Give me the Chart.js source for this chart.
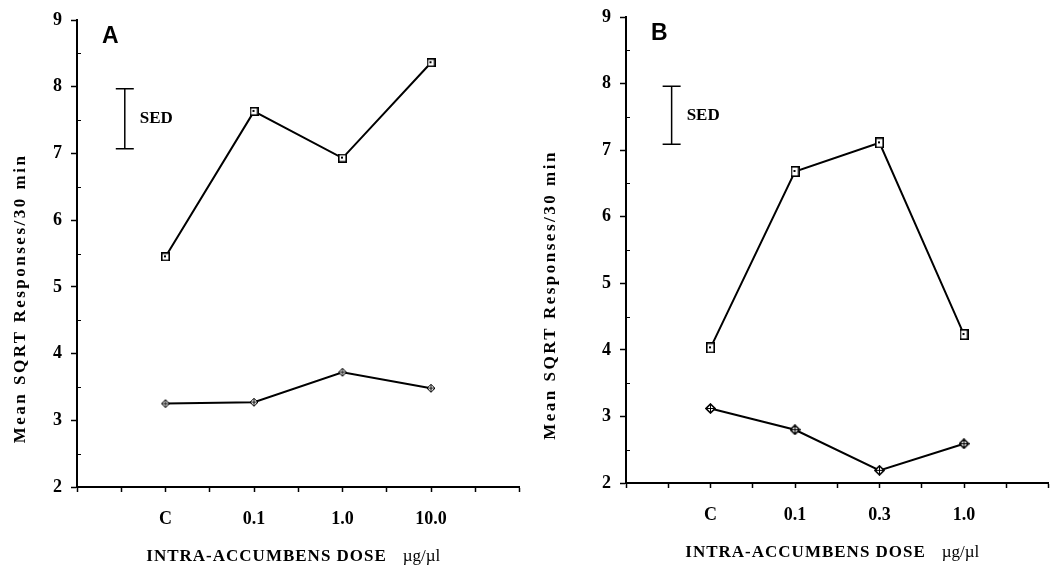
<!DOCTYPE html>
<html>
<head>
<meta charset="utf-8">
<script src="https://cdn.jsdelivr.net/npm/chart.js@4.4.1/dist/chart.umd.min.js"></script>
<style>
  body { margin: 0; background: #fff; }
  .panel { position: absolute; top: 0; }
</style>
</head>
<body>
<canvas id="chartA" class="panel" width="530" height="566" style="left:0"></canvas>
<canvas id="chartB" class="panel" width="529" height="566" style="left:530px"></canvas>
<script>
// Panel A values
const dosesA = ['C', '0.1', '1.0', '10.0'];
const squaresA = [5.45, 7.63, 6.93, 8.36];
const diamondsA = [3.25, 3.27, 3.72, 3.48];
const sedA = [7.07, 7.97];

// Panel B values
const dosesB = ['C', '0.1', '0.3', '1.0'];
const squaresB = [4.03, 6.68, 7.11, 4.23];
const diamondsB = [3.12, 2.80, 2.19, 2.59];
const sedB = [7.09, 7.96];

const yTicks = [2, 3, 4, 5, 6, 7, 8, 9];
const yTitle = 'Mean SQRT Responses/30 min';
const xTitle = 'INTRA-ACCUMBENS DOSE';
const xUnit = 'µg/µl';

const serif = '"Liberation Serif", "Times New Roman", serif';

// Square marker with a dot in the middle
function boxMarker(w, h) {
    const c = document.createElement('canvas');
    c.width = w; c.height = h;
    const g = c.getContext('2d');
    g.fillStyle = '#fff';
    g.fillRect(0, 0, w, h);
    g.strokeStyle = '#000';
    g.lineWidth = 1.6;
    g.strokeRect(0.8, 0.8, w - 1.6, h - 1.6);
    g.fillStyle = '#000';
    g.fillRect(Math.floor(w / 2) - 1, Math.floor(h / 2) - 1, 2, 2);
    return c;
}

// Small diamond with a cross inside
function diamondMarker(s, lw) {
    const c = document.createElement('canvas');
    c.width = s; c.height = s;
    const g = c.getContext('2d');
    const m = s / 2;
    g.strokeStyle = '#000';
    g.lineWidth = lw;
    g.beginPath();
    g.moveTo(m, 1); g.lineTo(s - 1, m); g.lineTo(m, s - 1); g.lineTo(1, m); g.closePath();
    g.fillStyle = '#fff';
    g.fill();
    g.stroke();
    g.lineWidth = 1;
    g.beginPath();
    g.moveTo(m, 2); g.lineTo(m, s - 2);
    g.moveTo(2, m); g.lineTo(s - 2, m);
    g.stroke();
    return c;
}

// Letters, SED label, minor ticks and axis titles
const decorations = {
    id: 'decorations',
    afterDraw(chart, args, opts) {
        const ctx = chart.ctx;
        const area = chart.chartArea;
        const x = chart.scales.x, y = chart.scales.y;
        ctx.save();
        ctx.fillStyle = '#000';
        ctx.strokeStyle = '#000';

        // minor y ticks pointing inward
        ctx.lineWidth = 1;
        ctx.beginPath();
        for (let v = y.min + 0.5; v < y.max; v += 1) {
            const py = Math.round(y.getPixelForValue(v)) + 0.5;
            ctx.moveTo(area.left, py);
            ctx.lineTo(area.left + 4, py);
        }
        ctx.stroke();

        // panel letter
        ctx.font = 'bold 23px "Liberation Sans", Arial, sans-serif';
        ctx.textAlign = 'left';
        ctx.textBaseline = 'alphabetic';
        ctx.fillText(opts.letter, area.left + 25, area.top + 23);

        // SED label
        const sx = x.getPixelForValue(opts.sedX);
        const sy = y.getPixelForValue((opts.sed[0] + opts.sed[1]) / 2);
        ctx.font = 'bold 17px ' + serif;
        ctx.textBaseline = 'middle';
        ctx.fillText('SED', sx + 15, sy);

        // y title
        ctx.save();
        ctx.translate(21, (area.top + area.bottom) / 2 + 45);
        ctx.rotate(-Math.PI / 2);
        ctx.font = 'bold 17px ' + serif;
        ctx.letterSpacing = '2.5px';
        ctx.textAlign = 'center';
        ctx.fillText(yTitle, 0, 0);
        ctx.restore();

        // x title: bold words, regular unit
        ctx.textBaseline = 'alphabetic';
        ctx.letterSpacing = '1px';
        ctx.font = 'bold 17px ' + serif;
        const w1 = ctx.measureText(xTitle + '   ').width;
        ctx.letterSpacing = '0px';
        ctx.font = '17px ' + serif;
        const w2 = ctx.measureText(xUnit).width;
        const start = (area.left + area.right) / 2 - 5 - (w1 + w2) / 2;
        const base = area.bottom + 74;
        ctx.letterSpacing = '1px';
        ctx.font = 'bold 17px ' + serif;
        ctx.fillText(xTitle, start, base);
        ctx.letterSpacing = '0px';
        ctx.font = '17px ' + serif;
        ctx.fillText(xUnit, start + w1, base);
        ctx.restore();
    }
};

function makeChart(id, doses, squares, diamonds, sed, letter, box, sqImg, dmImg) {
    const toPoints = (vals) => vals.map((v, i) => ({ x: i, y: v }));
    return new Chart(document.getElementById(id), {
        type: 'line',
        data: {
            datasets: [
                {
                    data: toPoints(squares),
                    borderColor: '#000',
                    borderWidth: 2,
                    pointStyle: sqImg,
                    tension: 0
                },
                {
                    data: toPoints(diamonds),
                    borderColor: '#000',
                    borderWidth: 2,
                    pointStyle: dmImg,
                    tension: 0
                },
                {
                    // SED bar with caps
                    data: sed.map(v => ({ x: -0.46, y: v })),
                    borderColor: '#000',
                    borderWidth: 1.5,
                    pointStyle: 'line',
                    pointRadius: 9,
                    pointBorderWidth: 1.5,
                    pointBorderColor: '#000'
                }
            ]
        },
        options: {
            responsive: false,
            animation: false,
            layout: { padding: { top: box.top, right: box.right, left: 0, bottom: 0 } },
            plugins: {
                legend: { display: false },
                tooltip: { enabled: false },
                decorations: { letter: letter, sed: sed, sedX: -0.46 }
            },
            scales: {
                x: {
                    type: 'linear',
                    min: -1,
                    max: 4,
                    afterFit: (s) => { s.height = 566 - box.bottom; s.paddingLeft = 0; s.paddingRight = 0; },
                    afterBuildTicks: (s) => {
                        s.ticks = [];
                        for (let v = -1; v <= 4; v += 0.5) s.ticks.push({ value: v });
                    },
                    ticks: {
                        autoSkip: false,
                        maxRotation: 0,
                        padding: 17,
                        color: '#000',
                        font: { family: serif, size: 18, weight: 'bold' },
                        callback: (v) => (Number.isInteger(v) && v >= 0 && v < doses.length) ? doses[v] : ''
                    },
                    grid: { drawOnChartArea: false, tickLength: 5, tickColor: '#000', tickWidth: 1.5 },
                    border: { color: '#000', width: 2 }
                },
                y: {
                    min: 2,
                    max: 9,
                    afterFit: (s) => { s.width = box.left; s.paddingTop = 0; s.paddingBottom = 0; },
                    afterBuildTicks: (s) => { s.ticks = yTicks.map(v => ({ value: v })); },
                    ticks: {
                        padding: 9,
                        color: '#000',
                        font: { family: serif, size: 18, weight: 'bold' }
                    },
                    grid: { drawOnChartArea: false, tickLength: 6, tickColor: '#000', tickWidth: 1.5 },
                    border: { color: '#000', width: 2 }
                }
            }
        },
        plugins: [decorations]
    });
}

document.addEventListener('DOMContentLoaded', () => {
    makeChart('chartA', dosesA, squaresA, diamondsA, sedA, 'A',
        { left: 77, top: 20, right: 5, bottom: 487 }, boxMarker(9, 9), diamondMarker(10, 1));
    makeChart('chartB', dosesB, squaresB, diamondsB, sedB, 'B',
        { left: 96, top: 17, right: 0, bottom: 483 }, boxMarker(9, 11), diamondMarker(11, 1.6));
});
</script>
</body>
</html>
